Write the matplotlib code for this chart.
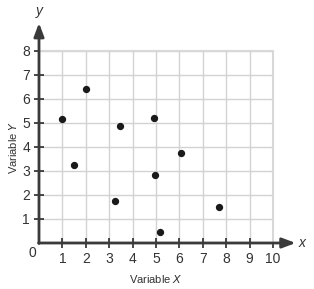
import matplotlib.pyplot as plt

# data
x_vals = [1.0, 2.0, 3.45, 4.9, 1.5, 3.26, 4.96, 6.05, 7.68, 5.17]
y_vals = [5.17, 6.43, 4.89, 5.2, 3.25, 1.75, 2.82, 3.76, 1.49, 0.47]
x_ticks = [1, 2, 3, 4, 5, 6, 7, 8, 9, 10]
y_ticks = [1, 2, 3, 4, 5, 6, 7, 8]

plt.rcParams['font.family'] = ['Liberation Sans', 'DejaVu Sans']

fig = plt.figure(figsize=(3.14, 2.89), dpi=100)
W, H = 314, 289
ax = fig.add_axes([39 / W, (H - 243) / H, 234 / W, 192 / H])
ax.set_xlim(0, 10)
ax.set_ylim(0, 8)

ax.grid(True, color='#d2d2d2', linewidth=1.0)
ax.set_axisbelow(True)
for side in ['left', 'bottom']:
    ax.spines[side].set_visible(False)
for side in ['top', 'right']:
    ax.spines[side].set_color('#d8d8d8')
    ax.spines[side].set_linewidth(1.5)

ax.set_xticks(x_ticks)
ax.set_yticks(y_ticks)
ax.tick_params(direction='inout', length=7, width=1.3, color='#3a3a3a',
               labelsize=10, labelcolor='#333333', pad=3)

# axis arrows
dark = '#3a3a3a'
ax.annotate('', xy=(10.97, 0), xytext=(-0.02, 0), annotation_clip=False,
            arrowprops=dict(arrowstyle='-|>,head_length=0.8,head_width=0.3',
                            color=dark, lw=2, shrinkA=0, shrinkB=0))
ax.annotate('', xy=(0, 9.17), xytext=(0, -0.02), annotation_clip=False,
            arrowprops=dict(arrowstyle='-|>,head_length=0.8,head_width=0.3',
                            color=dark, lw=2, shrinkA=0, shrinkB=0))

ax.scatter(x_vals, y_vals, s=18, color='#1a1a1a', zorder=5, clip_on=False)

ax.text(-0.3, -0.4, '0', fontsize=10, color='#333333', ha='center', va='center')
ax.text(11.25, 0, 'x', fontsize=10, style='italic', color='#333333', ha='center', va='center')
ax.text(0, 9.65, 'y', fontsize=10, style='italic', color='#333333', ha='center', va='center')

ax.set_xlabel('Variable $\\mathit{X}$', fontsize=8, color='#333333', labelpad=5)
ax.set_ylabel('Variable $\\mathit{Y}$', fontsize=8, color='#333333', labelpad=2)

fig.savefig('out.png', dpi=100)
